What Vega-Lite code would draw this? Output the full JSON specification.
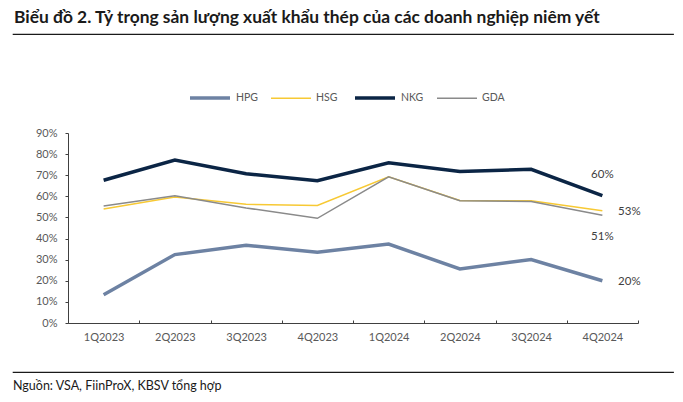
{
  "$schema": "https://vega.github.io/schema/vega-lite/v6.json",
  "description": "Ty trong san luong xuat khau thep cua cac doanh nghiep niem yet, 1Q2023-4Q2024.",
  "background": "white",
  "padding": {"left": 12, "top": 8, "right": 11, "bottom": 0},
  "spacing": 29,
  "resolve": {"scale": {"color": "independent", "strokeWidth": "independent"}, "legend": {"color": "independent", "strokeWidth": "independent"}},
  "datasets": {
    "share": [
      {"quarter": "1Q2023", "company": "HPG", "value": 0.134},
      {"quarter": "2Q2023", "company": "HPG", "value": 0.324},
      {"quarter": "3Q2023", "company": "HPG", "value": 0.368},
      {"quarter": "4Q2023", "company": "HPG", "value": 0.335},
      {"quarter": "1Q2024", "company": "HPG", "value": 0.374},
      {"quarter": "2Q2024", "company": "HPG", "value": 0.256},
      {"quarter": "3Q2024", "company": "HPG", "value": 0.301},
      {"quarter": "4Q2024", "company": "HPG", "value": 0.200},
      {"quarter": "1Q2023", "company": "HSG", "value": 0.540},
      {"quarter": "2Q2023", "company": "HSG", "value": 0.597},
      {"quarter": "3Q2023", "company": "HSG", "value": 0.562},
      {"quarter": "4Q2023", "company": "HSG", "value": 0.557},
      {"quarter": "1Q2024", "company": "HSG", "value": 0.692},
      {"quarter": "2Q2024", "company": "HSG", "value": 0.580},
      {"quarter": "3Q2024", "company": "HSG", "value": 0.579},
      {"quarter": "4Q2024", "company": "HSG", "value": 0.532},
      {"quarter": "1Q2023", "company": "GDA", "value": 0.554},
      {"quarter": "2Q2023", "company": "GDA", "value": 0.603},
      {"quarter": "3Q2023", "company": "GDA", "value": 0.545},
      {"quarter": "4Q2023", "company": "GDA", "value": 0.496},
      {"quarter": "1Q2024", "company": "GDA", "value": 0.692},
      {"quarter": "2Q2024", "company": "GDA", "value": 0.579},
      {"quarter": "3Q2024", "company": "GDA", "value": 0.576},
      {"quarter": "4Q2024", "company": "GDA", "value": 0.510},
      {"quarter": "1Q2023", "company": "NKG", "value": 0.676},
      {"quarter": "2Q2023", "company": "NKG", "value": 0.772},
      {"quarter": "3Q2023", "company": "NKG", "value": 0.707},
      {"quarter": "4Q2023", "company": "NKG", "value": 0.674},
      {"quarter": "1Q2024", "company": "NKG", "value": 0.759},
      {"quarter": "2Q2024", "company": "NKG", "value": 0.718},
      {"quarter": "3Q2024", "company": "NKG", "value": 0.728},
      {"quarter": "4Q2024", "company": "NKG", "value": 0.603}
    ]
  },
  "vconcat": [
    {
      "spacing": 41,
      "resolve": {"scale": {"color": "independent", "strokeWidth": "independent"}, "legend": {"color": "independent", "strokeWidth": "independent"}},
      "vconcat": [
        {
          "width": 660,
          "height": 0.01,
          "view": {"stroke": "#1a1a1a", "strokeWidth": 1.2, "fill": null},
          "title": {
            "text": "Biểu đồ 2. Tỷ trọng sản lượng xuất khẩu thép của các doanh nghiệp niêm yết",
            "anchor": "start",
            "dx": 1,
            "offset": 8,
            "font": "Lato",
            "fontSize": 17.4,
            "fontWeight": "bold",
            "color": "#1a1a1a"
          },
          "data": {"values": []},
          "mark": "point"
        },
        {
          "spacing": 21,
          "resolve": {"scale": {"color": "independent", "strokeWidth": "independent"}, "legend": {"color": "independent", "strokeWidth": "independent"}},
          "hconcat": [
            {
              "width": 1,
              "height": 0.01,
              "view": {"stroke": null},
              "data": {"values": []},
              "mark": "point"
            },
            {
              "width": 570,
              "height": 190,
              "view": {"stroke": null},
              "data": {"name": "share"},
              "encoding": {
                "x": {
                  "field": "quarter",
                  "type": "nominal",
                  "sort": null,
                  "scale": {"type": "band", "paddingInner": 0, "paddingOuter": 0},
                  "axis": {
                    "title": null,
                    "labelAngle": 0,
                    "tickBand": "extent",
                    "tickSize": -3,
                    "labelPadding": 11,
                    "domainColor": "#404040",
                    "tickColor": "#404040",
                    "labelFont": "Lato",
                    "labelFontSize": 11,
                    "labelColor": "#595959",
                    "grid": false
                  }
                },
                "y": {
                  "field": "value",
                  "type": "quantitative",
                  "scale": {"domain": [0, 0.9]},
                  "axis": {
                    "title": null,
                    "format": ".0%",
                    "values": [0, 0.1, 0.2, 0.3, 0.4, 0.5, 0.6, 0.7, 0.8, 0.9],
                    "tickSize": 3,
                    "labelPadding": 8,
                    "domainColor": "#404040",
                    "tickColor": "#404040",
                    "labelFont": "Lato",
                    "labelFontSize": 11,
                    "labelColor": "#595959",
                    "grid": false
                  }
                }
              },
              "layer": [
                {
                  "mark": {"type": "line", "strokeCap": "butt", "strokeJoin": "miter"},
                  "encoding": {
                    "color": {
                      "field": "company",
                      "type": "nominal",
                      "scale": {
                        "domain": ["HPG", "HSG", "NKG", "GDA"],
                        "range": ["#6d82a3", "#f7c934", "#0b2545", "#8a8a8a"]
                      },
                      "legend": {
                        "title": null,
                        "orient": "none",
                        "legendX": 120,
                        "legendY": -57,
                        "direction": "horizontal",
                        "padding": 0,
                        "symbolType": "stroke",
                        "symbolSize": 1600,
                        "labelOffset": 4,
                        "columnPadding": 10,
                        "labelFont": "Lato",
                        "labelFontSize": 10.5,
                        "labelColor": "#595959"
                      }
                    },
                    "strokeWidth": {
                      "field": "company",
                      "type": "nominal",
                      "scale": {
                        "type": "ordinal",
                        "domain": ["HPG", "HSG", "NKG", "GDA"],
                        "range": [3.5, 1.5, 3.5, 1.5]
                      },
                      "legend": null
                    }
                  }
                },
                {
                  "transform": [{"filter": "datum.quarter == '4Q2024' && datum.company == 'NKG'"}],
                  "mark": {"type": "text", "dy": -21, "font": "Lato", "fontSize": 11.5, "color": "#404040"},
                  "encoding": {"text": {"field": "value", "type": "quantitative", "format": ".0%"}}
                },
                {
                  "transform": [{"filter": "datum.quarter == '4Q2024' && datum.company == 'GDA'"}],
                  "mark": {"type": "text", "dy": 22, "font": "Lato", "fontSize": 11.5, "color": "#404040"},
                  "encoding": {"text": {"field": "value", "type": "quantitative", "format": ".0%"}}
                },
                {
                  "transform": [{"filter": "datum.quarter == '4Q2024' && (datum.company == 'HSG' || datum.company == 'HPG')"}],
                  "mark": {"type": "text", "dx": 27, "dy": 1, "font": "Lato", "fontSize": 11.5, "color": "#404040"},
                  "encoding": {"text": {"field": "value", "type": "quantitative", "format": ".0%"}}
                }
              ]
            }
          ]
        }
      ]
    },
    {
      "width": 660,
      "height": 0.01,
      "view": {"stroke": "#1a1a1a", "strokeWidth": 1.2, "fill": null},
      "title": {
        "text": "Nguồn: VSA, FiinProX, KBSV tổng hợp",
        "orient": "bottom",
        "anchor": "start",
        "dx": 0,
        "offset": 8,
        "font": "Lato",
        "fontSize": 12.5,
        "fontWeight": "normal",
        "color": "#1a1a1a"
      },
      "data": {"values": []},
      "mark": "point"
    }
  ]
}
